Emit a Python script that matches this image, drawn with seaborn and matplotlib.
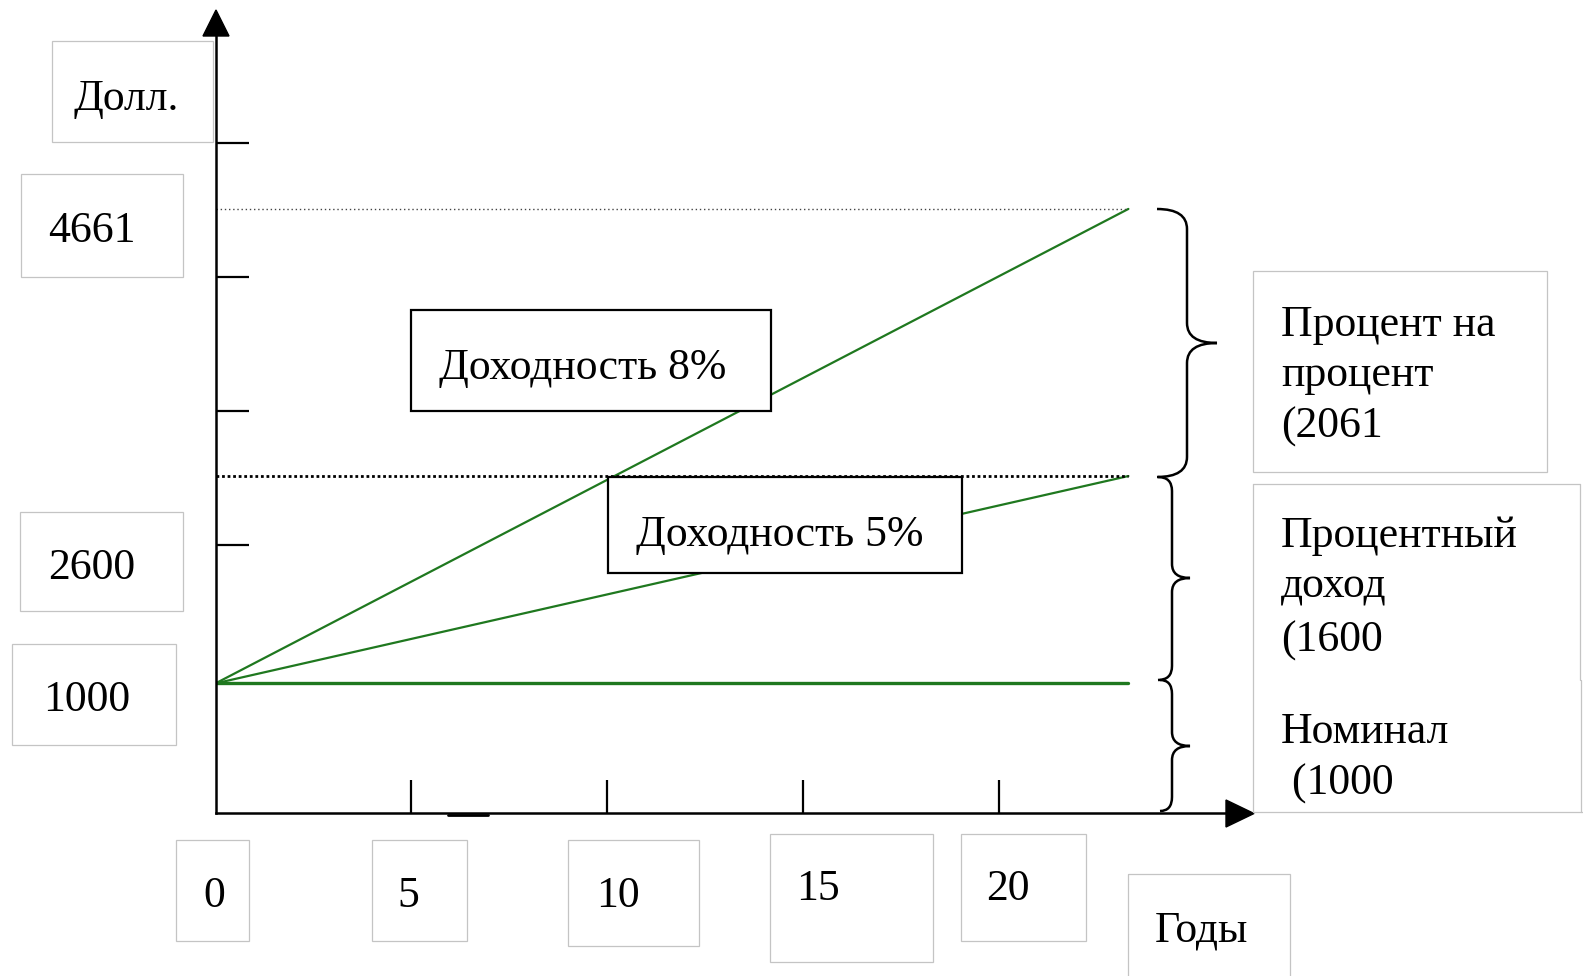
# Доходность облигации: номинал, процентный доход и процент на процент
import pandas as pd
import seaborn as sns
import matplotlib.pyplot as plt
from matplotlib.patches import Rectangle, Polygon, PathPatch
from matplotlib.path import Path

# data
years = [0, 23.3]
nominal = [1000, 1000]
yield_5 = [1000, 2600]
yield_8 = [1000, 4661]
series_names = ["Номинал", "Доходность 5%", "Доходность 8%"]
x_ticks = [5, 10, 15, 20]
y_ticks = [2070, 3100, 4135, 5170]
x_labels = ["0", "5", "10", "15", "20"]
y_labels = ["4661", "2600", "1000"]

df = pd.DataFrame({
    "year": years * 3,
    "value": nominal + yield_5 + yield_8,
    "series": [s for s in series_names for _ in years],
})

sns.set_style("white")
plt.rcParams["font.family"] = ["Liberation Serif", "DejaVu Serif"]
plt.rcParams["text.color"] = "black"

W, H = 1583, 976
fig = plt.figure(figsize=(W / 100, H / 100), dpi=100)

# where the axes sit in the picture (pixels)
x0_px, y0_px = 215.5, 813
px_per_year = 39.18
px_per_dollar = 0.1296
right_px, top_px = 1228, 36

ax = fig.add_axes([x0_px / W, 1 - y0_px / H,
                   (right_px - x0_px) / W, (y0_px - top_px) / H])
green = "#1f781f"
for name in series_names:
    sns.lineplot(data=df[df.series == name], x="year", y="value", ax=ax,
                 color=green, lw=2.4 if name == "Номинал" else 1.6,
                 legend=False)

ax.hlines(yield_8[-1], 0, years[-1], colors="#444444", lw=1.0,
          linestyles=(0, (1, 2)))
ax.hlines(yield_5[-1], 0, years[-1], colors="black", lw=2.0,
          linestyles=(0, (1, 1)))

ax.set_xlim(0, (right_px - x0_px) / px_per_year)
ax.set_ylim(0, (y0_px - top_px) / px_per_dollar)
ax.set_xticks(x_ticks)
ax.set_yticks(y_ticks)
ax.tick_params(left=True, bottom=True, direction="in", length=24, width=1.6,
               color="black", labelleft=False, labelbottom=False)
ax.set_xlabel("")
ax.set_ylabel("")
sns.despine(ax=ax)
for side in ["left", "bottom"]:
    ax.spines[side].set_linewidth(1.8)
    ax.spines[side].set_color("black")

# overlay in pixel coordinates for the boxes, braces and arrows
ov = fig.add_axes([0, 0, 1, 1])
ov.set_xlim(0, W)
ov.set_ylim(H, 0)
ov.axis("off")
ov.patch.set_alpha(0)

ov.add_patch(Polygon([(203, 36), (229, 36), (216, 10)], closed=True, color="black"))
ov.add_patch(Polygon([(1226, 800), (1226, 827), (1254, 813.5)], closed=True, color="black"))
ov.plot([448, 488], [814.5, 814.5], color="black", lw=2)

fs = 31.5
grey = "#c4c4c4"


def box(x1, y1, x2, y2, edge=grey, lw=0.9, face="none"):
    ov.add_patch(Rectangle((x1, y1), x2 - x1, y2 - y1, facecolor=face,
                           edgecolor=edge, lw=lw))


# axis labels and tick labels in their boxes
box(52, 41, 213, 142)
ov.text(74, 110, "Долл.", fontsize=fs, ha="left", va="baseline")
y_boxes = [(21, 174, 183, 277), (20, 512, 183, 611), (12, 644, 176, 745)]
y_text = [(48, 242), (48, 579), (43, 711)]
for lab, b, t in zip(y_labels, y_boxes, y_text):
    box(*b)
    ov.text(t[0], t[1], lab, fontsize=fs, ha="left", va="baseline")

x_boxes = [(176, 840, 249, 941), (372, 840, 467, 941), (568, 840, 699, 946),
           (770, 834, 933, 962), (961, 834, 1086, 941)]
x_text = [(214, 907), (408, 907), (618, 907), (818, 900), (1008, 900)]
for lab, b, t in zip(x_labels, x_boxes, x_text):
    box(*b)
    ov.text(t[0], t[1], lab, fontsize=fs, ha="center", va="baseline")

box(1128, 874, 1290, 990)
ov.text(1155, 942, "Годы", fontsize=fs, ha="left", va="baseline")

# yield labels
box(411, 310, 771, 411, edge="black", lw=1.6, face="white")
ov.text(439, 379, "Доходность 8%", fontsize=fs, ha="left", va="baseline")
box(608, 477, 962, 573, edge="black", lw=1.6, face="white")
ov.text(636, 546, "Доходность 5%", fontsize=fs, ha="left", va="baseline")


def brace(x_end, x_mid, x_tip, y_top, y_tip, y_bot, r):
    verts = [(x_end, y_top), (x_mid, y_top), (x_mid, y_top + r),
             (x_mid, y_tip - r), (x_mid, y_tip), (x_tip, y_tip),
             (x_mid, y_tip), (x_mid, y_tip + r),
             (x_mid, y_bot - r), (x_mid, y_bot), (x_end, y_bot)]
    codes = [Path.MOVETO, Path.CURVE3, Path.CURVE3, Path.LINETO,
             Path.CURVE3, Path.CURVE3, Path.CURVE3, Path.CURVE3,
             Path.LINETO, Path.CURVE3, Path.CURVE3]
    ov.add_patch(PathPatch(Path(verts, codes), facecolor="none",
                           edgecolor="black", lw=1.8))


brace(1157, 1187, 1217, 209, 343, 477, 20)
brace(1158, 1172, 1190, 477, 578, 680, 14)
brace(1160, 1172, 1190, 680, 746, 811, 14)

# right-hand explanation boxes
box(1253, 271, 1547, 472)
for txt, yb in [("Процент на", 336), ("процент", 386), ("(2061", 438)]:
    ov.text(1281, yb, txt, fontsize=fs, ha="left", va="baseline")

for xs, ys in [([1253, 1580], [484, 484]), ([1580, 1580], [484, 680]),
               ([1253, 1253], [484, 812]), ([1253, 1583], [812, 812]),
               ([1581.5, 1581.5], [680, 812])]:
    ov.plot(xs, ys, color=grey, lw=0.9)
for txt, yb in [("Процентный", 547), ("доход", 598), ("(1600", 652),
                ("Номинал", 743), (" (1000", 795)]:
    ov.text(1281, yb, txt, fontsize=fs, ha="left", va="baseline")

fig.savefig("out.png", dpi=100)
